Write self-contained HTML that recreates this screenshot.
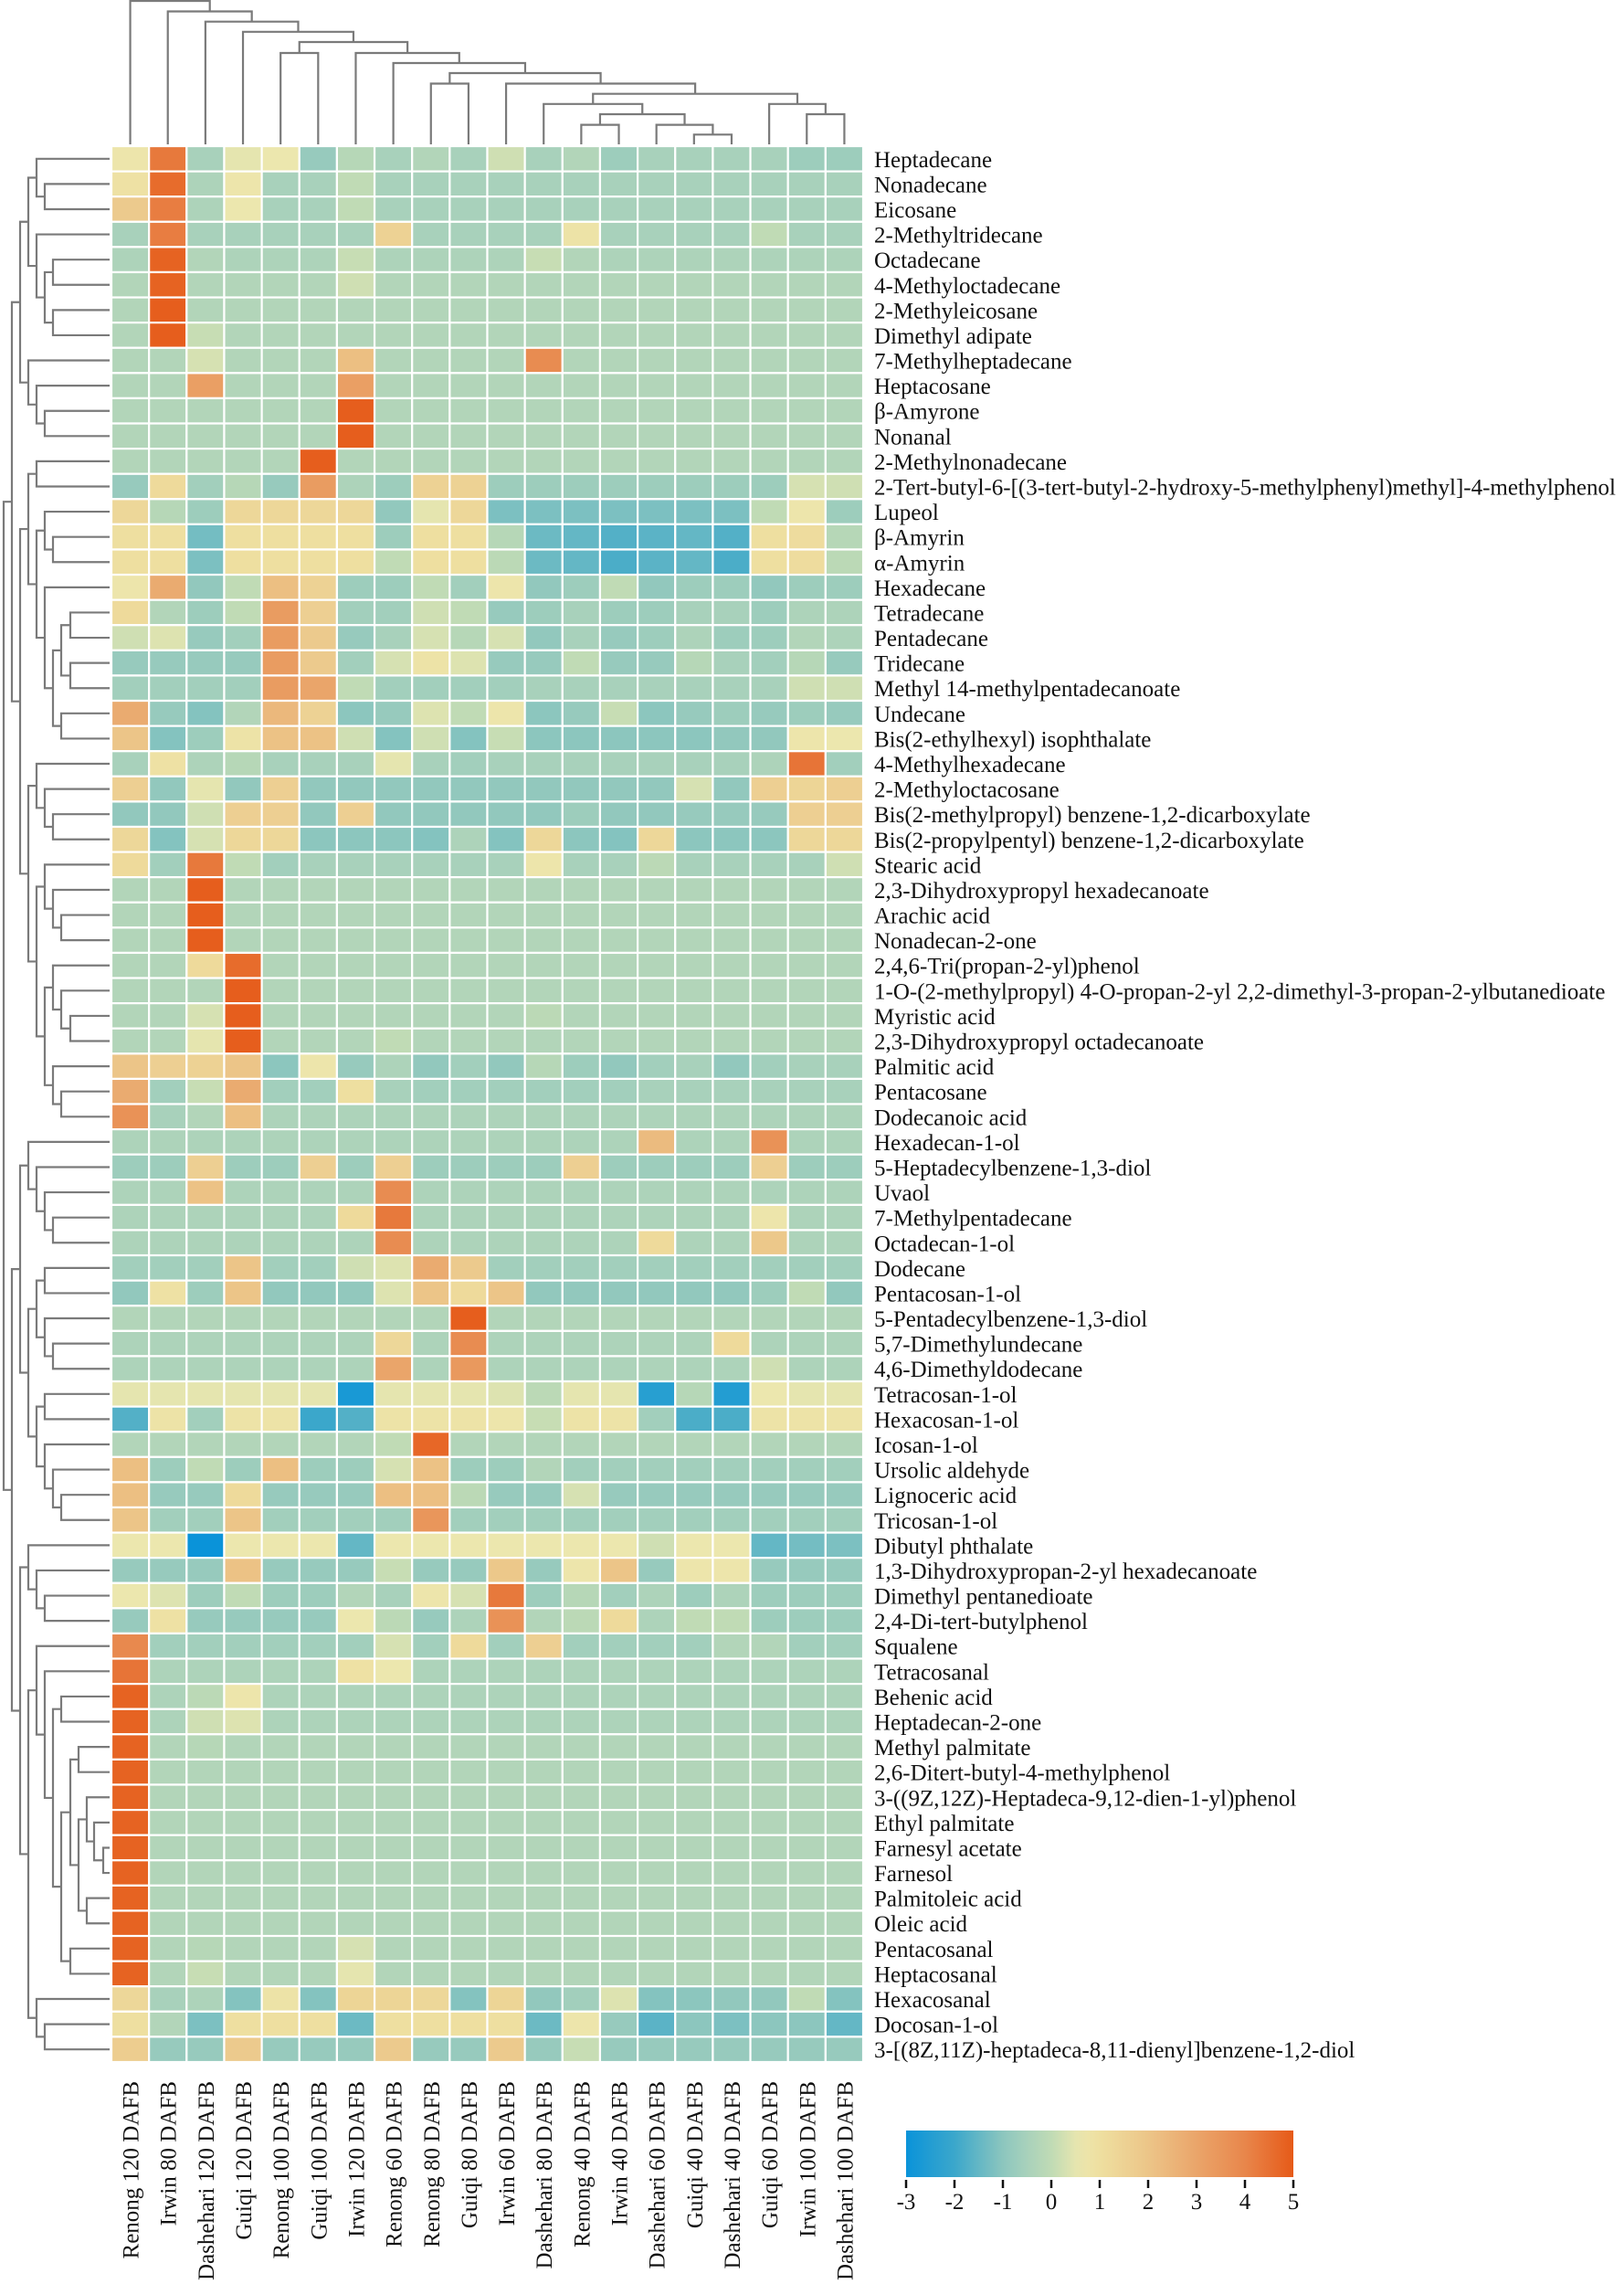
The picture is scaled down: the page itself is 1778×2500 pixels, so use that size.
<!DOCTYPE html>
<html><head><meta charset="utf-8"><title>Heatmap</title>
<style>
html,body{margin:0;padding:0;background:#fff;}
svg{display:block;font-family:"Liberation Serif",serif;}
</style></head>
<body>
<svg id="chart" width="1778" height="2500" viewBox="0 0 1778 2500" xmlns="http://www.w3.org/2000/svg">
<g id="dendro-top"></g>
<g id="dendro-left"></g>
<g id="cells"></g>
<g id="rowlabels"></g>
<g id="collabels"></g>
<g id="legend"></g>
</svg>
<script>
const columns = ["Renong 120 DAFB","Irwin 80 DAFB","Dashehari 120 DAFB","Guiqi 120 DAFB","Renong 100 DAFB","Guiqi 100 DAFB","Irwin 120 DAFB","Renong 60 DAFB","Renong 80 DAFB","Guiqi 80 DAFB","Irwin 60 DAFB","Dashehari 80 DAFB","Renong 40 DAFB","Irwin 40 DAFB","Dashehari 60 DAFB","Guiqi 40 DAFB","Dashehari 40 DAFB","Guiqi 60 DAFB","Irwin 100 DAFB","Dashehari 100 DAFB"];
const rowsNames = ["Heptadecane","Nonadecane","Eicosane","2-Methyltridecane","Octadecane","4-Methyloctadecane","2-Methyleicosane","Dimethyl adipate","7-Methylheptadecane","Heptacosane","β-Amyrone","Nonanal","2-Methylnonadecane","2-Tert-butyl-6-[(3-tert-butyl-2-hydroxy-5-methylphenyl)methyl]-4-methylphenol","Lupeol","β-Amyrin","α-Amyrin","Hexadecane","Tetradecane","Pentadecane","Tridecane","Methyl 14-methylpentadecanoate","Undecane","Bis(2-ethylhexyl) isophthalate","4-Methylhexadecane","2-Methyloctacosane","Bis(2-methylpropyl) benzene-1,2-dicarboxylate","Bis(2-propylpentyl) benzene-1,2-dicarboxylate","Stearic acid","2,3-Dihydroxypropyl hexadecanoate","Arachic acid","Nonadecan-2-one","2,4,6-Tri(propan-2-yl)phenol","1-O-(2-methylpropyl) 4-O-propan-2-yl 2,2-dimethyl-3-propan-2-ylbutanedioate","Myristic acid","2,3-Dihydroxypropyl octadecanoate","Palmitic acid","Pentacosane","Dodecanoic acid","Hexadecan-1-ol","5-Heptadecylbenzene-1,3-diol","Uvaol","7-Methylpentadecane","Octadecan-1-ol","Dodecane","Pentacosan-1-ol","5-Pentadecylbenzene-1,3-diol","5,7-Dimethylundecane","4,6-Dimethyldodecane","Tetracosan-1-ol","Hexacosan-1-ol","Icosan-1-ol","Ursolic aldehyde","Lignoceric acid","Tricosan-1-ol","Dibutyl phthalate","1,3-Dihydroxypropan-2-yl hexadecanoate","Dimethyl pentanedioate","2,4-Di-tert-butylphenol","Squalene","Tetracosanal","Behenic acid","Heptadecan-2-one","Methyl palmitate","2,6-Ditert-butyl-4-methylphenol","3-((9Z,12Z)-Heptadeca-9,12-dien-1-yl)phenol","Ethyl palmitate","Farnesyl acetate","Farnesol","Palmitoleic acid","Oleic acid","Pentacosanal","Heptacosanal","Hexacosanal","Docosan-1-ol","3-[(8Z,11Z)-heptadeca-8,11-dienyl]benzene-1,2-diol"];
const values = [
[0.7,4.3,-0.5,0.5,0.6,-0.8,-0.2,-0.5,-0.3,-0.5,0.2,-0.5,-0.3,-0.7,-0.5,-0.5,-0.5,-0.5,-0.7,-0.7],
[0.9,4.6,-0.4,0.7,-0.5,-0.5,0,-0.5,-0.5,-0.5,-0.5,-0.5,-0.5,-0.5,-0.5,-0.5,-0.5,-0.5,-0.5,-0.5],
[1.8,4.2,-0.4,0.6,-0.5,-0.5,0,-0.5,-0.5,-0.5,-0.5,-0.5,-0.5,-0.5,-0.5,-0.5,-0.5,-0.5,-0.5,-0.5],
[-0.5,4.2,-0.5,-0.5,-0.5,-0.5,-0.5,1.5,-0.5,-0.5,-0.5,-0.5,0.8,-0.5,-0.5,-0.5,-0.5,0,-0.5,-0.5],
[-0.4,4.8,-0.3,-0.4,-0.4,-0.4,0.1,-0.4,-0.4,-0.4,-0.4,0.1,-0.3,-0.4,-0.4,-0.4,-0.4,-0.4,-0.4,-0.4],
[-0.3,4.8,-0.3,-0.3,-0.3,-0.3,0.2,-0.3,-0.3,-0.3,-0.3,-0.3,-0.3,-0.3,-0.3,-0.3,-0.3,-0.3,-0.3,-0.3],
[-0.3,4.9,-0.3,-0.3,-0.3,-0.3,-0.3,-0.3,-0.3,-0.3,-0.3,-0.3,-0.3,-0.3,-0.3,-0.3,-0.3,-0.3,-0.3,-0.3],
[-0.3,4.9,0.1,-0.3,-0.3,-0.3,-0.3,-0.3,-0.3,-0.3,-0.3,-0.3,-0.3,-0.3,-0.3,-0.3,-0.3,-0.3,-0.3,-0.3],
[-0.3,-0.3,0.3,-0.3,-0.3,-0.3,2.2,-0.3,-0.3,-0.3,-0.3,3.8,-0.3,-0.3,-0.3,-0.3,-0.3,-0.3,-0.3,-0.3],
[-0.3,-0.3,3.2,-0.3,-0.3,-0.3,3.2,-0.3,-0.3,-0.3,-0.3,-0.3,-0.3,-0.3,-0.3,-0.3,-0.3,-0.3,-0.3,-0.3],
[-0.3,-0.3,-0.3,-0.3,-0.3,-0.3,4.9,-0.3,-0.3,-0.3,-0.3,-0.3,-0.3,-0.3,-0.3,-0.3,-0.3,-0.3,-0.3,-0.3],
[-0.3,-0.3,-0.3,-0.3,-0.3,-0.3,4.9,-0.3,-0.3,-0.3,-0.3,-0.3,-0.3,-0.3,-0.3,-0.3,-0.3,-0.3,-0.3,-0.3],
[-0.3,-0.3,-0.3,-0.3,-0.3,4.9,-0.3,-0.3,-0.3,-0.3,-0.3,-0.3,-0.3,-0.3,-0.3,-0.3,-0.3,-0.3,-0.3,-0.3],
[-0.8,1.2,-0.6,-0.2,-0.8,3.3,-0.4,-0.7,1.5,1.5,-0.7,-0.7,-0.7,-0.7,-0.7,-0.7,-0.7,-0.7,0.3,0.2],
[1.3,-0.2,-0.7,1.3,1.3,1.3,1.3,-0.9,0.5,1.3,-1.2,-1.2,-1.2,-1.2,-1.2,-1.2,-1.2,0,0.7,-0.7],
[1.0,1.0,-1.3,1.0,1.0,1.0,1.0,-0.7,1.0,1.0,-0.2,-1.4,-1.5,-1.7,-1.6,-1.5,-1.7,1.0,1.1,-0.2],
[1.0,1.0,-1.2,1.0,1.0,1.0,1.0,0,1.0,1.0,-0.1,-1.4,-1.5,-1.8,-1.6,-1.5,-1.8,1.0,1.1,-0.1],
[0.7,2.8,-0.9,0,2.2,1.5,-0.7,-0.7,0,-0.6,0.7,-0.9,-0.7,0,-0.9,-0.7,-0.7,-0.9,-0.7,-0.7],
[1.2,-0.3,-0.7,0,3.3,1.6,-0.6,-0.6,0.2,0,-0.8,-0.7,-0.5,-0.7,-0.7,-0.5,-0.5,-0.7,-0.4,-0.4],
[0.2,0.4,-0.8,-0.6,3.3,1.8,-0.8,-0.5,0.3,-0.2,0.3,-0.9,-0.5,-0.8,-0.7,-0.4,-0.7,-0.7,-0.3,-0.4],
[-0.8,-0.8,-0.8,-0.8,3.3,1.8,-0.6,0.3,0.8,0.4,-0.8,-0.8,0,-0.8,-0.8,-0.2,-0.5,-0.6,-0.2,-0.8],
[-0.6,-0.6,-0.6,-0.6,3.3,3.0,0,-0.6,-0.6,-0.6,-0.6,-0.5,-0.5,-0.5,-0.5,-0.5,-0.5,-0.5,0.2,0.2],
[2.8,-0.8,-1.1,-0.3,2.4,1.5,-1.0,-0.8,0.4,0,0.7,-1.0,-0.8,0.1,-1.0,-0.8,-0.7,-0.8,-0.7,-0.8],
[2.0,-1.1,-0.7,0.8,2.1,2.1,0.2,-1.1,0.2,-1.1,0.1,-1.0,-1.0,-1.0,-1.0,-1.0,-0.9,-0.9,0.7,0.6],
[-0.5,0.9,-0.4,-0.2,-0.5,-0.5,-0.5,0.5,-0.5,-0.6,-0.5,-0.5,-0.5,-0.5,-0.5,-0.5,-0.5,-0.4,4.4,-0.6],
[1.6,-0.9,0.5,-0.9,1.6,-0.9,-0.9,-0.9,-0.9,-0.9,-0.9,-0.9,-0.9,-0.9,-0.9,0.3,-0.9,1.6,1.4,1.6],
[-0.9,-0.9,0.2,1.6,1.6,-0.9,1.6,-0.9,-0.9,-0.9,-0.9,-0.9,-0.7,-0.9,-0.9,-0.8,-0.8,-0.8,1.6,1.6],
[1.3,-1.1,0.3,1.3,1.3,-1.0,-1.0,-1.0,-1.1,-0.4,-1.1,1.3,-1.0,-1.1,1.3,-1.0,-1.0,-1.0,1.3,1.3],
[1.2,-0.6,4.3,0,-0.6,-0.5,-0.5,-0.5,-0.5,-0.5,-0.5,0.7,-0.5,-0.5,-0.1,-0.5,-0.5,-0.5,-0.5,0.2],
[-0.3,-0.3,4.9,-0.3,-0.3,-0.3,-0.3,-0.3,-0.3,-0.3,-0.3,-0.3,-0.3,-0.3,-0.3,-0.3,-0.3,-0.3,-0.3,-0.3],
[-0.3,-0.3,4.9,-0.3,-0.3,-0.3,-0.3,-0.3,-0.3,-0.3,-0.3,-0.3,-0.3,-0.3,-0.3,-0.3,-0.3,-0.3,-0.3,-0.3],
[-0.3,-0.3,4.9,-0.3,-0.3,-0.3,-0.3,-0.3,-0.3,-0.3,-0.3,-0.3,-0.3,-0.3,-0.3,-0.3,-0.3,-0.3,-0.3,-0.3],
[-0.3,-0.3,1.2,4.6,-0.3,-0.3,-0.3,-0.3,-0.3,-0.3,-0.3,-0.3,-0.3,-0.3,-0.3,-0.3,-0.3,-0.3,-0.3,-0.3],
[-0.3,-0.3,-0.3,4.9,-0.3,-0.3,-0.3,-0.3,-0.3,-0.3,-0.3,-0.3,-0.3,-0.3,-0.3,-0.3,-0.3,-0.3,-0.3,-0.3],
[-0.3,-0.3,0.3,4.9,-0.3,-0.3,-0.3,-0.3,-0.3,-0.3,-0.3,-0.1,-0.3,-0.3,-0.3,-0.3,-0.3,-0.3,-0.3,-0.3],
[-0.3,-0.3,0.5,4.9,-0.3,-0.3,-0.3,0,-0.3,-0.3,-0.3,-0.3,-0.3,-0.3,-0.3,-0.3,-0.3,-0.3,-0.3,-0.3],
[2.0,1.6,1.5,2.0,-1.0,0.7,-0.8,-0.4,-0.9,-0.6,-0.9,-0.2,-0.7,-0.9,-0.6,-0.5,-0.9,-0.6,-0.5,-0.5],
[2.8,-0.6,0.1,2.8,-0.6,-0.6,1.0,-0.5,-0.6,-0.6,-0.6,-0.6,-0.6,-0.6,-0.5,-0.5,-0.5,-0.5,-0.5,-0.5],
[3.6,-0.5,-0.3,2.2,-0.4,-0.4,-0.4,-0.4,-0.4,-0.4,-0.4,-0.4,-0.4,-0.4,-0.4,-0.4,-0.4,-0.4,-0.4,-0.4],
[-0.4,-0.4,-0.4,-0.4,-0.4,-0.4,-0.4,-0.4,-0.4,-0.4,-0.4,-0.4,-0.4,-0.4,2.3,-0.4,-0.4,3.6,-0.4,-0.4],
[-0.7,-0.7,1.6,-0.7,-0.7,1.6,-0.7,1.6,-0.7,-0.7,-0.7,-0.7,1.6,-0.7,-0.7,-0.7,-0.7,1.6,-0.7,-0.7],
[-0.4,-0.4,2.1,-0.4,-0.4,-0.4,-0.4,3.8,-0.4,-0.4,-0.4,-0.4,-0.4,-0.4,-0.4,-0.4,-0.4,-0.4,-0.4,-0.4],
[-0.4,-0.4,-0.4,-0.4,-0.4,-0.4,1.2,4.3,-0.4,-0.4,-0.4,-0.4,-0.4,-0.4,-0.4,-0.4,-0.4,0.7,-0.4,-0.4],
[-0.4,-0.4,-0.4,-0.4,-0.4,-0.4,-0.4,3.8,-0.4,-0.4,-0.4,-0.4,-0.4,-0.4,1.2,-0.4,-0.4,1.9,-0.4,-0.4],
[-0.6,-0.6,-0.6,2.0,-0.6,-0.6,0.2,0.4,2.8,1.8,-0.6,-0.6,-0.6,-0.6,-0.6,-0.6,-0.6,-0.6,-0.6,-0.6],
[-0.9,0.9,-0.7,2.0,-0.9,-0.9,-0.9,0.4,2.0,1.2,2.0,-0.9,-0.9,-0.9,-0.9,-0.9,-0.9,-0.7,0,-0.9],
[-0.3,-0.3,-0.3,-0.3,-0.3,-0.3,-0.3,-0.3,-0.3,4.9,-0.3,-0.3,-0.3,-0.3,-0.3,-0.3,-0.3,-0.3,-0.3,-0.3],
[-0.4,-0.4,-0.4,-0.4,-0.4,-0.4,-0.4,1.3,-0.4,3.8,-0.4,-0.4,-0.4,-0.4,-0.4,-0.4,1.2,-0.4,-0.4,-0.4],
[-0.4,-0.4,-0.4,-0.4,-0.4,-0.4,-0.4,3.0,-0.4,3.4,-0.4,-0.4,-0.4,-0.4,-0.4,-0.4,-0.4,0.2,-0.4,-0.4],
[0.5,0.5,0.5,0.5,0.5,0.5,-2.7,0.5,0.5,0.5,0.4,-0.1,0.5,0.5,-2.4,-0.2,-2.5,0.6,0.5,0.5],
[-1.7,0.8,-0.6,0.8,0.8,-2.0,-1.7,0.8,0.8,0.8,0.7,0.1,0.8,0.8,-0.6,-1.8,-1.8,0.8,0.8,0.8],
[-0.3,-0.3,-0.3,-0.3,-0.3,-0.3,-0.3,0,4.7,-0.3,-0.3,-0.3,-0.3,-0.3,-0.3,-0.3,-0.3,-0.3,-0.3,-0.3],
[2.2,-0.7,0,-0.7,2.2,-0.7,-0.7,0.3,2.1,-0.7,-0.7,-0.3,-0.6,-0.6,-0.6,-0.6,-0.6,-0.6,-0.6,-0.6],
[2.2,-0.8,-0.8,1.2,-0.8,-0.8,-0.8,2.2,2.2,-0.1,-0.8,-0.8,0.3,-0.8,-0.8,-0.8,-0.8,-0.8,-0.8,-0.8],
[2.0,-0.6,-0.6,2.0,-0.6,-0.6,-0.6,-0.6,3.5,-0.6,-0.6,-0.6,-0.6,-0.6,-0.6,-0.6,-0.6,-0.6,-0.6,-0.6],
[0.6,0.6,-3.0,0.6,0.6,0.6,-1.5,0.6,0.6,0.6,0.6,0.6,0.6,0.6,0.2,0.6,0.6,-1.5,-1.3,-1.2],
[-0.8,-0.8,-0.8,2.1,-0.8,-0.8,-0.8,0.1,-0.8,-0.8,1.9,-0.8,0.7,2.0,-0.8,0.7,0.7,-0.8,-0.8,-0.8],
[0.6,0.4,-0.7,0,-0.7,-0.7,-0.3,-0.5,0.7,0.3,4.3,-0.7,-0.2,-0.6,-0.4,-0.7,-0.4,-0.7,-0.7,-0.7],
[-0.8,0.9,-0.8,-0.8,-0.8,-0.8,0.6,-0.1,-0.8,-0.4,3.6,-0.3,-0.1,1.2,-0.4,0,0,-0.7,-0.7,-0.7],
[3.9,-0.6,-0.6,-0.6,-0.6,-0.6,-0.6,0.3,-0.6,1.2,-0.6,1.6,-0.6,-0.6,-0.6,-0.6,-0.3,-0.3,-0.6,-0.6],
[4.4,-0.4,-0.4,-0.4,-0.4,-0.4,0.9,0.6,-0.4,-0.4,-0.4,-0.4,-0.4,-0.4,-0.4,-0.4,-0.4,-0.4,-0.4,-0.4],
[4.8,-0.4,-0.1,0.7,-0.4,-0.4,-0.4,-0.4,-0.4,-0.4,-0.4,-0.4,-0.4,-0.4,-0.4,-0.4,-0.4,-0.4,-0.4,-0.4],
[4.8,-0.4,0.2,0.4,-0.4,-0.4,-0.4,-0.4,-0.4,-0.4,-0.4,-0.4,-0.4,-0.4,-0.4,-0.4,-0.4,-0.4,-0.4,-0.4],
[4.8,-0.3,-0.2,-0.3,-0.3,-0.3,-0.3,-0.3,-0.3,-0.3,-0.3,-0.3,-0.3,-0.3,-0.3,-0.3,-0.3,-0.3,-0.3,-0.3],
[4.8,-0.3,-0.3,-0.3,-0.3,-0.3,-0.3,-0.3,-0.3,-0.3,-0.3,-0.3,-0.3,-0.3,-0.3,-0.3,-0.3,-0.3,-0.3,-0.3],
[4.8,-0.3,-0.3,-0.3,-0.3,-0.3,-0.3,-0.3,-0.3,-0.3,-0.3,-0.3,-0.3,-0.3,-0.3,-0.3,-0.3,-0.3,-0.3,-0.3],
[4.8,-0.3,-0.3,-0.3,-0.3,-0.3,-0.3,-0.3,-0.3,-0.3,-0.3,-0.3,-0.3,-0.3,-0.3,-0.3,-0.3,-0.3,-0.3,-0.3],
[4.8,-0.3,-0.3,-0.3,-0.3,-0.3,-0.3,-0.3,-0.3,-0.3,-0.3,-0.3,-0.3,-0.3,-0.3,-0.3,-0.3,-0.3,-0.3,-0.3],
[4.8,-0.3,-0.3,-0.3,-0.3,-0.3,-0.3,-0.3,-0.3,-0.3,-0.3,-0.3,-0.3,-0.3,-0.3,-0.3,-0.3,-0.3,-0.3,-0.3],
[4.8,-0.3,-0.3,-0.3,-0.3,-0.3,-0.3,-0.3,-0.3,-0.3,-0.3,-0.3,-0.3,-0.3,-0.3,-0.3,-0.3,-0.3,-0.3,-0.3],
[4.8,-0.3,-0.3,-0.3,-0.3,-0.3,-0.3,-0.3,-0.3,-0.3,-0.3,-0.3,-0.3,-0.3,-0.3,-0.3,-0.3,-0.3,-0.3,-0.3],
[4.8,-0.3,-0.2,-0.3,-0.3,-0.3,0.3,-0.3,-0.3,-0.3,-0.3,-0.3,-0.3,-0.3,-0.3,-0.3,-0.3,-0.3,-0.3,-0.3],
[4.8,-0.3,0.1,-0.3,-0.3,-0.3,0.5,-0.3,-0.3,-0.3,-0.3,-0.3,-0.3,-0.3,-0.3,-0.3,-0.3,-0.3,-0.3,-0.3],
[1.3,-0.5,-0.4,-1.1,0.8,-1.1,1.4,1.4,1.3,-1.1,1.4,-0.9,-0.6,0.4,-1.1,-1.0,-0.9,-0.9,0,-1.1],
[1.0,-0.3,-1.2,1.0,1.0,1.0,-1.4,1.0,1.0,1.0,1.0,-1.4,0.7,-0.8,-1.6,-1.0,-1.2,-1.0,-1.0,-1.5],
[1.7,-0.8,-0.8,1.8,-0.8,-0.8,-0.8,1.8,-0.8,-0.8,1.8,-0.8,0.1,-0.8,-0.8,-0.8,-0.8,-0.8,-0.8,-0.8]
];
const legendTicks = [-3,-2,-1,0,1,2,3,4,5];
// dendrogram structure: [height, left, right]; leaves are indices
const colTree = [1,0,[12.5,1,[23.7,2,[34.8,3,[46,[58,4,5],[58,6,[69,7,[80,[91.5,8,9],[91.5,10,[102.7,[113.8,11,[125,[136.6,12,13],[136.6,14,[147.3,15,16]]]],[113.8,17,[125,18,19]]]]]]]]]]]];
const rowTree = [4,
 [13,
  [22,[31,[40,0,[49,1,2]],[40,3,[49,[58,4,5],[58,6,7]]]],[31,8,[40,9,[49,10,11]]]],
  [22,
   [31,[40,12,13],[40,[49,14,[58,15,16]],[49,17,[58,[67,[77,18,19],[77,20,21]],[67,22,23]]]]],
   [31,[40,24,[49,25,[58,26,27]]],[40,[49,28,[58,29,[67,30,31]]],[49,[58,32,[67,33,[77,34,35]]],[58,36,[67,37,38]]]]]
  ]
 ],
 [13,
  [22,[31,39,[40,40,[49,41,[58,42,43]]]],[31,[40,[49,44,45],[49,46,[58,47,48]]],[40,[49,49,50],[49,51,[58,52,[67,53,54]]]]]],
  [22,[31,55,[40,56,[49,57,58]]],[31,[40,59,[49,60,[58,[67,61,62],[67,[77,[86,63,64],[86,[95,65,[103,66,[113,67,68]]],[95,69,70]]],[77,71,72]]]]],[40,73,[49,74,75]]]]
 ]
];

const NS="http://www.w3.org/2000/svg";
const X0=122, X1=945, Y0=160, Y1=2257;
const CW=(X1-X0)/columns.length, RH=(Y1-Y0)/rowsNames.length;
const xCenter=i=>X0+CW*(i+0.5);
const yCenter=r=>Y0+RH*(r+0.5);
const stops=[[-3,[10,147,217]],[-2,[59,167,203]],[-1,[140,198,190]],[-0.5,[168,209,187]],[0,[192,219,181]],[0.6,[236,231,174]],[1,[238,223,160]],[2,[236,197,136]],[3,[234,165,106]],[4,[232,134,75]],[5,[230,90,24]]];
function color(v){
  if(v<=stops[0][0]) return 'rgb('+stops[0][1].join(',')+')';
  for(let i=1;i<stops.length;i++){
    if(v<=stops[i][0]){const a=stops[i-1],b=stops[i];const t=(v-a[0])/(b[0]-a[0]);
      return 'rgb('+a[1].map((c,k)=>Math.round(c+(b[1][k]-c)*t)).join(',')+')';}
  }
  return 'rgb('+stops[stops.length-1][1].join(',')+')';
}
function mk(tag,attrs,parent){const e=document.createElementNS(NS,tag);for(const k in attrs)e.setAttribute(k,attrs[k]);parent.appendChild(e);return e;}

// cells
const gCells=document.getElementById('cells');
values.forEach((row,r)=>{row.forEach((v,c)=>{
  const rc=mk('rect',{x:X0+CW*c,y:Y0+RH*r,width:CW,height:RH,fill:color(v),stroke:'#fff','stroke-width':2.2},gCells);
  
  
});});

// row labels
const gRL=document.getElementById('rowlabels');
rowsNames.forEach((n,r)=>{
  const t=mk('text',{x:957,y:yCenter(r)+9,'font-size':25,fill:'#111'},gRL);
  t.textContent=n;
  
  
});
// column labels
const gCL=document.getElementById('collabels');
columns.forEach((n,c)=>{
  const x=xCenter(c)+9, y=2278;
  const t=mk('text',{x:x,y:y,'font-size':25,fill:'#111','text-anchor':'end',transform:'rotate(-90 '+x+' '+y+')'},gCL);
  t.textContent=n;
  
  
});

// dendrograms
const LS={stroke:'#7a7a7a','stroke-width':2.2,fill:'none'};
function drawRow(node,g){
  if(typeof node==='number') return [120,yCenter(node)];
  const a=drawRow(node[1],g), b=drawRow(node[2],g), x=node[0];
  const p=mk('path',Object.assign({d:'M'+a[0]+' '+a[1]+'H'+x+'V'+b[1]+'H'+b[0]},LS),g);
  
  
  return [x,(a[1]+b[1])/2];
}
function drawCol(node,g){
  if(typeof node==='number') return [xCenter(node),158];
  const a=drawCol(node[1],g), b=drawCol(node[2],g), y=node[0];
  const p=mk('path',Object.assign({d:'M'+a[0]+' '+a[1]+'V'+y+'H'+b[0]+'V'+b[1]},LS),g);
  
  
  return [(a[0]+b[0])/2,y];
}
drawRow(rowTree,document.getElementById('dendro-left'));
drawCol(colTree,document.getElementById('dendro-top'));

// legend
const gL=document.getElementById('legend');
const LX0=992, LX1=1416, LY0=2332, LY1=2383;
const defs=mk('defs',{},gL);
const grad=mk('linearGradient',{id:'lg',x1:'0',x2:'1',y1:'0',y2:'0'},defs);
for(let v=-3;v<=5.001;v+=0.25){mk('stop',{offset:((v+3)/8).toFixed(4),'stop-color':color(v)},grad);}
const bar=mk('rect',{x:LX0,y:LY0,width:LX1-LX0,height:LY1-LY0,fill:'url(#lg)'},gL);


legendTicks.forEach(v=>{
  const x=LX0+(v+3)/8*(LX1-LX0);
  const tk=mk('line',{x1:x,x2:x,y1:LY1+3,y2:LY1+12,stroke:'#111','stroke-width':2.5},gL);
  
  
  const t=mk('text',{x:x,y:2418,'font-size':25,'text-anchor':'middle',fill:'#111'},gL);
  t.textContent=String(v);
  
  
});
</script>
</body></html>
